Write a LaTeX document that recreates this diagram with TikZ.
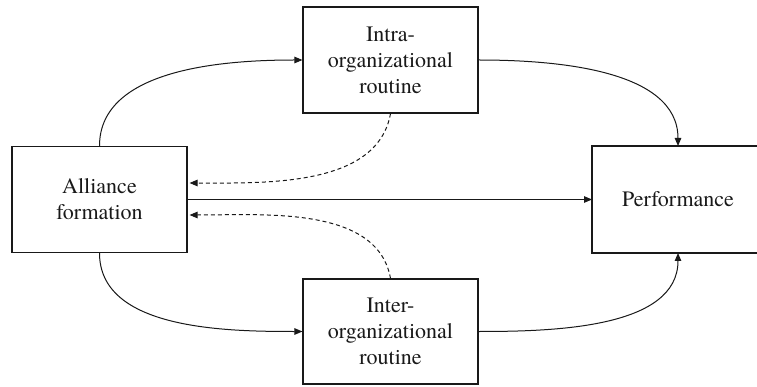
\documentclass[tikz,border=0pt]{standalone}
\usepackage{fontspec}
\setmainfont{texgyretermes-regular.otf}
\usetikzlibrary{arrows.meta}
\begin{document}
\begin{tikzpicture}[x=1pt,y=-1pt,
  box/.style={draw=black!90, line width=1.1pt, inner sep=0pt, align=center,
    font=\rmfamily\fontsize{22}{26}\selectfont, text=black!90, minimum width=175pt, minimum height=106pt},
  conn/.style={draw=black!90, line width=1pt, -{Triangle[length=8pt,width=6.5pt]}},
  dconn/.style={conn, dash pattern=on 4pt off 3pt}]
\path[use as bounding box] (0,0) rectangle (757,387);
\node[box] (L) at (99.5,199.5) {Alliance\\formation};
\node[box] (T) at (390.5,60) {Intra-\\organizational\\routine};
\node[box, minimum height=105pt] (B) at (390.5,331.5) {Inter-\\organizational\\routine};
\draw[line width=1.1pt, draw=black!90] (760,146) -- (592,146) -- (592,253) -- (760,253);
\node[inner sep=0pt, font=\rmfamily\fontsize{22}{26}\selectfont, text=black!90] (P) at (678,199.5) {Performance};
\coordinate (Pw) at (592,199.5);
\coordinate (Pn) at (678,146);
\coordinate (Ps) at (678,253);
\draw[conn] (L.north) to[out=90,in=180,looseness=0.9] (T.west);
\draw[conn] (T.east) to[out=0,in=90,looseness=0.9] (Pn);
\draw[conn] (L.east) -- (Pw);
\draw[conn] (L.south) to[out=-90,in=180,looseness=0.9] (B.west);
\draw[conn] (B.east) to[out=0,in=-90,looseness=0.9] (Ps);
\draw[dconn] (T.south) to[out=-100,in=0,looseness=0.9] ([xshift=2pt,yshift=16.5pt]L.east);
\draw[dconn] (B.north) to[out=100,in=0,looseness=0.9] ([xshift=2pt,yshift=-15.5pt]L.east);
\end{tikzpicture}
\end{document}
